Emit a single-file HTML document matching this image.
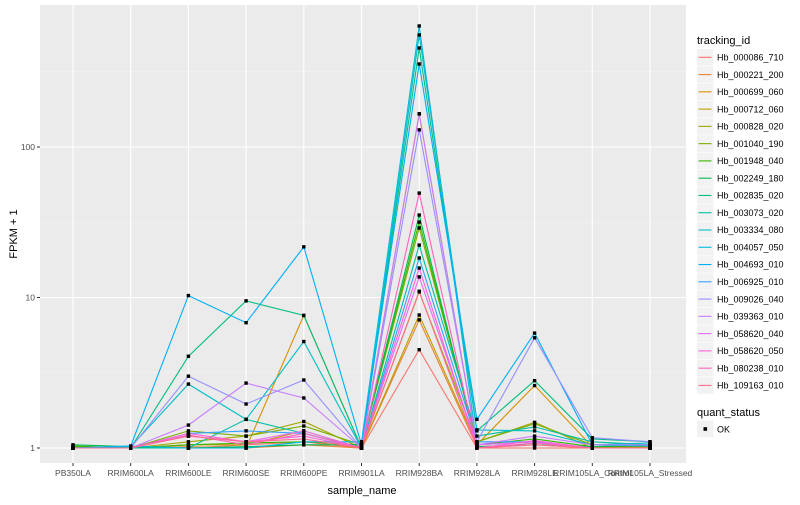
<!DOCTYPE html>
<html><head><meta charset="utf-8"><style>
body{margin:0;background:#fff;font-family:"Liberation Sans",sans-serif;}
svg text{font-family:"Liberation Sans",sans-serif;}
</style></head><body>
<svg id="chart" width="800" height="500" viewBox="0 0 800 500">
<rect x="40" y="5" width="646" height="458" fill="#EBEBEB"/>
<g id="grid"></g><g id="lines"></g><g id="pts"></g><g id="axes"></g><g id="legend"></g>
<text x="362" y="494" font-size="11" text-anchor="middle" fill="#000">sample_name</text>
<text transform="translate(17,234) rotate(-90)" font-size="11" text-anchor="middle" fill="#000">FPKM + 1</text>
</svg>
<script>
const samples=["PB350LA","RRIM600LA","RRIM600LE","RRIM600SE","RRIM600PE","RRIM901LA","RRIM928BA","RRIM928LA","RRIM928LE","RRIM105LA_Control","RRIM105LA_Stressed"];
const ids=["Hb_000086_710","Hb_000221_200","Hb_000699_060","Hb_000712_060","Hb_000828_020","Hb_001040_190","Hb_001948_040","Hb_002249_180","Hb_002835_020","Hb_003073_020","Hb_003334_080","Hb_004057_050","Hb_004693_010","Hb_006925_010","Hb_009026_040","Hb_039363_010","Hb_058620_040","Hb_058620_050","Hb_080238_010","Hb_109163_010"];
const colors=["#F8766D","#EA8331","#D89000","#C09B00","#A3A500","#7CAE00","#39B600","#00BB4E","#00BF7D","#00C1A3","#00BFC4","#00BAE0","#00B0F6","#35A2FF","#9590FF","#C77CFF","#E76BF3","#FA62DB","#FF62BC","#FF6C91"];
const v0=[1.0,1.0,1.0,1.05,1.1,1.0,4.5,1.0,1.0,1.0,1.0];
const v1=[1.02,1.0,1.02,1.0,1.05,1.0,7.1,1.02,1.05,1.0,1.02];
const v2=[1.0,1.0,1.0,1.0,7.6,1.0,166,1.05,2.6,1.02,1.0];
const v3=[1.0,1.0,1.05,1.05,1.3,1.0,7.65,1.05,1.1,1.0,1.02];
const v4=[1.0,1.0,1.1,1.2,1.5,1.0,10.9,1.1,1.48,1.0,1.03];
const v5=[1.02,1.0,1.3,1.2,1.4,1.05,29,1.1,1.45,1.05,1.05];
const v6=[1.03,1.0,1.05,1.08,1.1,1.05,31.7,1.05,1.15,1.02,1.03];
const v7=[1.05,1.02,1.0,1.02,1.05,1.05,35.3,1.02,1.05,1.02,1.05];
const v8=[1.0,1.0,4.07,9.5,7.6,1.0,455,1.3,2.8,1.15,1.1];
const v9=[1.0,1.0,1.0,1.55,1.25,1.0,22.3,1.2,1.38,1.1,1.05];
const v10=[1.0,1.02,2.66,1.55,5.1,1.0,555,1.32,1.3,1.05,1.08];
const v11=[1.0,1.03,1.0,1.0,1.1,1.1,637,1.05,1.1,1.0,1.0];
const v12=[1.0,1.03,10.3,6.8,21.7,1.05,356,1.55,5.8,1.05,1.03];
const v13=[1.0,1.0,1.25,1.3,1.25,1.0,18.3,1.1,1.1,1.0,1.0];
const v14=[1.0,1.0,3.0,1.96,2.83,1.0,130,1.1,5.4,1.17,1.1];
const v15=[1.0,1.0,1.42,2.7,2.15,1.0,166,1.05,1.2,1.05,1.05];
const v16=[1.0,1.0,1.2,1.1,1.3,1.0,13.7,1.05,1.1,1.0,1.0];
const v17=[1.0,1.0,1.25,1.1,1.2,1.0,15.7,1.0,1.12,1.0,1.0];
const v18=[1.0,1.0,1.22,1.05,1.25,1.0,49.4,1.0,1.08,1.0,1.0];
const v19=[1.0,1.0,1.2,1.1,1.15,1.0,11,1.0,1.05,1.0,1.0];
const series=[v0,v1,v2,v3,v4,v5,v6,v7,v8,v9,v10,v11,v12,v13,v14,v15,v16,v17,v18,v19];
const yTicks=[1,10,100];
const NS="http://www.w3.org/2000/svg";
function xs(i){return 73+i*57.7;}
function ys(v){return 448-150.5*Math.log10(v);}
function mk(t,a,p){const e=document.createElementNS(NS,t);for(const k in a)e.setAttribute(k,a[k]);p.appendChild(e);return e;}
const grid=document.getElementById('grid'),lines=document.getElementById('lines'),pts=document.getElementById('pts'),axes=document.getElementById('axes'),leg=document.getElementById('legend');
for(let k=0;k<3;k++){const y=ys(Math.pow(10,k+0.5));const g=mk('line',{x1:40,x2:686,y1:y,y2:y,stroke:'#F5F5F5','stroke-width':0.6},grid);

}
yTicks.forEach(t=>{const y=ys(t);const g=mk('line',{x1:40,x2:686,y1:y,y2:y,stroke:'#fff','stroke-width':1.1},grid);


const tk=mk('line',{x1:37,x2:40,y1:y,y2:y,stroke:'#333'},axes);


const tx=mk('text',{x:35,y:y+3,'font-size':8.5,'text-anchor':'end',fill:'#4D4D4D'},axes);tx.textContent=t;

});
samples.forEach((s,i)=>{const x=xs(i);const g=mk('line',{x1:x,x2:x,y1:5,y2:463,stroke:'#fff','stroke-width':1.1},grid);


const tk=mk('line',{x1:x,x2:x,y1:463,y2:466,stroke:'#333'},axes);


const tx=mk('text',{x:x,y:476,'font-size':8.5,'text-anchor':'middle',fill:'#4D4D4D'},axes);tx.textContent=s;

});
series.forEach((vals,j)=>{const d=vals.map((v,i)=>xs(i).toFixed(1)+','+ys(v).toFixed(1)).join(' ');
const pl=mk('polyline',{points:d,fill:'none',stroke:colors[j],'stroke-width':1.1},lines);


vals.forEach((v,i)=>{const r=mk('rect',{x:xs(i)-1.7,y:ys(v)-1.7,width:3.4,height:3.4,fill:'#000'},pts);

});});
const lt=mk('text',{x:697,y:44,'font-size':11,fill:'#000'},leg);lt.textContent='tracking_id';


ids.forEach((id,j)=>{const cy=57.3+j*17.27;
const g=mk('g',{},leg);


mk('rect',{x:697,y:cy-8.3,width:16.6,height:16.6,fill:'#F2F2F2'},g);
mk('line',{x1:698.5,x2:711.5,y1:cy,y2:cy,stroke:colors[j],'stroke-width':1.1},g);
const t=mk('text',{x:717,y:cy+3.2,'font-size':9,fill:'#000'},g);t.textContent=id;});
const qt=mk('text',{x:697,y:416,'font-size':11,fill:'#000'},leg);qt.textContent='quant_status';


const qg=mk('g',{},leg);


mk('rect',{x:697,y:420.7,width:16.6,height:16.6,fill:'#F2F2F2'},qg);
mk('rect',{x:703.5,y:427.2,width:3.6,height:3.6,fill:'#000'},qg);
const ok=mk('text',{x:717,y:432.3,'font-size':9,fill:'#000'},qg);ok.textContent='OK';
</script>
</body></html>
